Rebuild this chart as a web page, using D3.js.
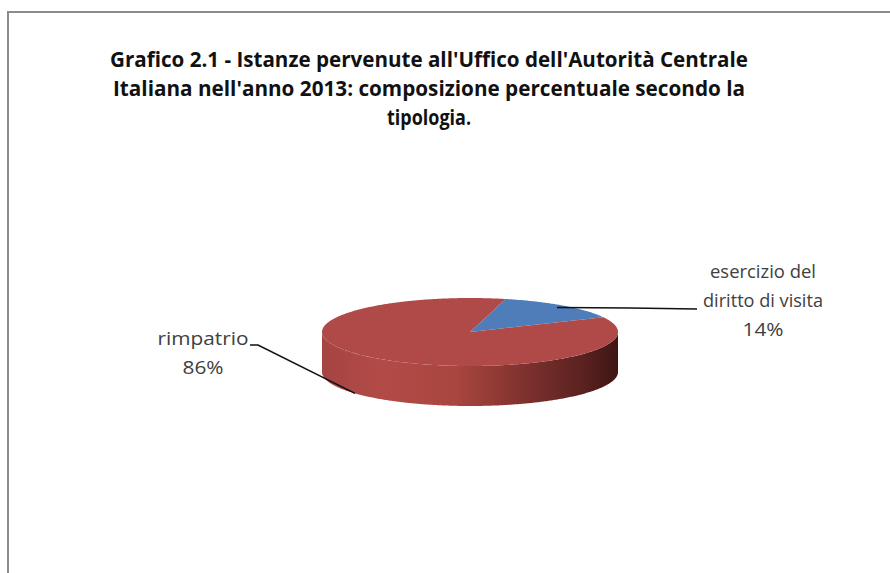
<!DOCTYPE html>
<html>
<head>
<meta charset="utf-8">
<script src="https://d3js.org/d3.v7.min.js"></script>
<title>Grafico 2.1</title>
<style type="text/css">
body { margin:0; background:#fff; }
svg { display:block; }
.title { font-family:"Open Sans", sans-serif; font-weight:bold; font-size:21px; fill:#111; }
.lbl { font-family:"Open Sans", sans-serif; font-size:18px; fill:#404040; }
</style>
</head>
<body>
<svg id="chart"></svg>
<script>
// data
var categories = ["esercizio del diritto di visita", "rimpatrio"];
var values = [14, 86];
var labelLines = [["esercizio del", "diritto di visita", "14%"], ["rimpatrio", "86%"]];
var titleLines = [
  "Grafico 2.1 - Istanze pervenute all'Uffico dell'Autorità Centrale",
  "Italiana nell'anno 2013: composizione percentuale secondo la",
  "tipologia."
];
var colors = ["#4f7dba", "#b04a48"];

var width = 890, height = 573;
var svg = d3.select("#chart").attr("width", width).attr("height", height);

// frame
svg.append("rect")
  .attr("x", 8).attr("y", 12)
  .attr("width", 1000).attr("height", 1000)
  .attr("fill", "none").attr("stroke", "#8c8c8c").attr("stroke-width", 2);

// title
var titleW = [638, 632, 84];
svg.selectAll("text.title")
  .data(titleLines)
  .enter().append("text")
  .attr("class", "title")
  .attr("x", 429)
  .attr("y", function(d, i) { return 67 + i * 29; })
  .attr("text-anchor", "middle")
  .attr("textLength", function(d, i) { return titleW[i]; })
  .attr("lengthAdjust", "spacingAndGlyphs")
  .text(function(d) { return d; });

// 3d pie geometry
var cx = 470, cy = 332, rx = 148, ry = 34, depth = 40;
function pt(a, r, dz) {
  return [cx + rx * r * Math.sin(a), cy - ry * r * Math.cos(a) + (dz || 0)];
}
var startOff = 14 * Math.PI / 180;
var pie = d3.pie().sort(null)
  .startAngle(startOff).endAngle(startOff + 2 * Math.PI);
var arcs = pie(values);

var defs = svg.append("defs");
var grad = defs.append("linearGradient").attr("id", "sideGrad")
  .attr("gradientUnits", "userSpaceOnUse")
  .attr("x1", cx - rx).attr("x2", cx + rx).attr("y1", 0).attr("y2", 0);
[[0, "#a54442"], [0.2, "#b24b48"], [0.45, "#a9463f"], [0.7, "#7c302d"], [0.88, "#5a2220"], [1, "#3f1514"]]
  .forEach(function(s) { grad.append("stop").attr("offset", s[0]).attr("stop-color", s[1]); });

var line = d3.line();

// side wall (front half only)
function sidePath(a0, a1) {
  var lo = Math.max(a0, Math.PI / 2), hi = Math.min(a1, 3 * Math.PI / 2);
  if (hi <= lo) return null;
  var top = d3.range(lo, hi, 0.01).concat([hi]).map(function(a) { return pt(a, 1, 0); });
  var bot = top.map(function(p) { return [p[0], p[1] + depth]; }).reverse();
  return line(top.concat(bot)) + "Z";
}
arcs.forEach(function(d, i) {
  [0, -2 * Math.PI].forEach(function(shift) {
    var p = sidePath(d.startAngle + shift, d.endAngle + shift);
    if (p) svg.append("path").attr("d", p)
      .attr("fill", i === 1 ? "url(#sideGrad)" : "#2c4d7a");
  });
});

// top face
svg.selectAll("path.slice")
  .data(arcs)
  .enter().append("path")
  .attr("class", "slice")
  .attr("d", function(d) {
    var pts = [pt(0, 0)].concat(
      d3.range(d.startAngle, d.endAngle, 0.01).concat([d.endAngle]).map(function(a) { return pt(a, 1); }));
    return line(pts) + "Z";
  })
  .attr("fill", function(d, i) { return colors[i]; });

// leader lines
var blueMid = (arcs[0].startAngle + arcs[0].endAngle) / 2;
var a1 = pt(blueMid, 0.93);
var a2 = pt(Math.PI * 231 / 180, 1, depth);
var leaders = [
  [a1, [630, 308], [697, 309]],
  [a2, [258, 345], [250, 345]]
];
svg.selectAll("path.leader")
  .data(leaders)
  .enter().append("path")
  .attr("class", "leader")
  .attr("d", function(d) { return line(d); })
  .attr("fill", "none").attr("stroke", "#111").attr("stroke-width", 1.6);

// labels
var lblPos = [{x: 763, y: 278, w: [106, 120, 41]}, {x: 203, y: 345, w: [91, 41]}];
lblPos.forEach(function(p, i) {
  svg.append("g").selectAll("text")
    .data(labelLines[i])
    .enter().append("text")
    .attr("class", "lbl")
    .attr("x", p.x)
    .attr("y", function(d, j) { return p.y + j * 29; })
    .attr("text-anchor", "middle")
    .attr("textLength", function(d, j) { return p.w[j]; })
    .attr("lengthAdjust", "spacingAndGlyphs")
    .text(function(d) { return d; });
});
</script>
</body>
</html>
